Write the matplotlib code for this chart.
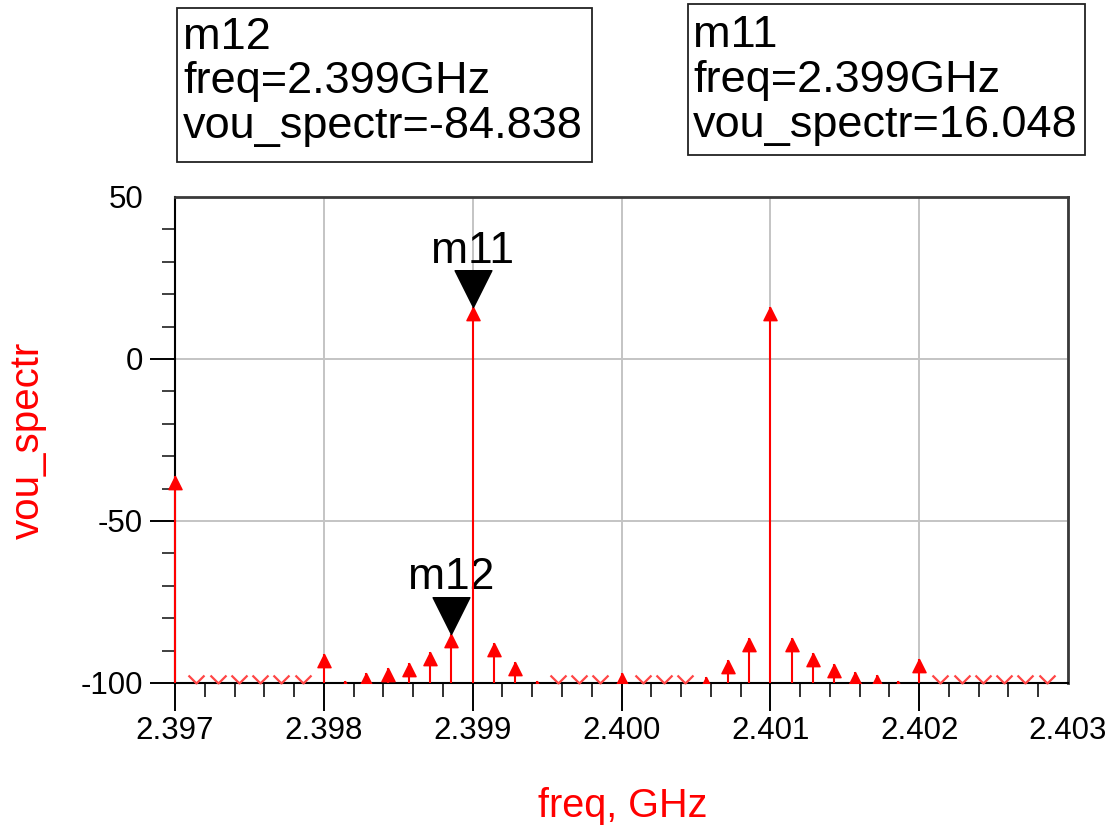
import matplotlib
matplotlib.use("Agg")
import matplotlib.pyplot as plt
import numpy as np
from matplotlib.path import Path
from matplotlib.patches import Rectangle
from matplotlib.ticker import MultipleLocator, FormatStrFormatter

plt.rcParams["font.family"] = ["Liberation Sans", "DejaVu Sans"]
plt.rcParams["axes.unicode_minus"] = False

# Spectrum of vou: tone spacing 1/7 MHz, values in dB
freq_ghz = [
    2.397000, 2.397143, 2.397286, 2.397429, 2.397571, 2.397714, 2.397857,
    2.398000, 2.398143, 2.398286, 2.398429, 2.398571, 2.398714, 2.398857,
    2.399000, 2.399143, 2.399286, 2.399429, 2.399571, 2.399714, 2.399857,
    2.400000, 2.400143, 2.400286, 2.400429, 2.400571, 2.400714, 2.400857,
    2.401000, 2.401143, 2.401286, 2.401429, 2.401571, 2.401714, 2.401857,
    2.402000, 2.402143, 2.402286, 2.402429, 2.402571, 2.402714, 2.402857,
]
vou_spectr = [
    -36.0, -112.0, -115.0, -110.0, -118.0, -113.0, -109.0,
    -91.0, -99.5, -97.0, -95.3, -93.8, -90.4, -84.838,
    16.048, -87.6, -93.5, -99.5, -108.0, -112.0, -106.0,
    -97.0, -107.0, -111.0, -106.0, -98.0, -93.0, -86.0,
    16.0, -86.2, -90.8, -94.2, -96.6, -97.6, -99.5,
    -92.6, -108.0, -114.0, -110.0, -116.0, -112.0, -109.0,
]

# Markers: name -> index into the data
marker_names = ["m11", "m12"]
marker_index = [14, 13]

x_limits = (2.397, 2.403)
y_limits = (-100, 50)
x_ticks = [2.397, 2.398, 2.399, 2.400, 2.401, 2.402, 2.403]
y_ticks = [-100, -50, 0, 50]

W, H = 1116, 826
fig = plt.figure(figsize=(W / 100, H / 100), dpi=100)
ax = fig.add_axes([175 / W, 1 - 683 / H, (1068 - 175) / W, (683 - 197) / H])

ax.set_xlim(*x_limits)
ax.set_ylim(*y_limits)

freq = np.asarray(freq_ghz)
vals = np.asarray(vou_spectr)
inside = vals >= y_limits[0]
below = ~inside

# Grid
ax.set_xticks(x_ticks)
ax.set_yticks(y_ticks)
ax.xaxis.set_major_formatter(FormatStrFormatter("%.3f"))
ax.yaxis.set_major_formatter(FormatStrFormatter("%d"))
ax.xaxis.set_minor_locator(MultipleLocator(0.0002))
ax.yaxis.set_minor_locator(MultipleLocator(10))
ax.grid(True, which="major", color="#c4c4c4", lw=1.4, zorder=0)
ax.set_axisbelow(True)

# Stems
ax.vlines(freq[inside], y_limits[0], vals[inside], color="#ff0000",
          lw=1.5, zorder=3, clip_on=False)

# Arrow-head markers whose tip sits on the value
tip_up = Path([(0, 0), (-0.5, -1), (0.5, -1), (0, 0)],
              [Path.MOVETO, Path.LINETO, Path.LINETO, Path.CLOSEPOLY])
heads, = ax.plot(freq[inside], vals[inside], ls="none", marker=tip_up,
                 ms=19, color="#ff0000", mec="#ff0000", zorder=4)
clip_rect = Rectangle((-0.05, 0), 1.1, 1.1, transform=ax.transAxes,
                      facecolor="none", edgecolor="none")
ax.add_patch(clip_rect)
heads.set_clip_path(clip_rect)

# Out-of-range points drawn as chevrons on the bottom edge
chevron = Path([(-1, 1), (0, 0), (1, 1)],
               [Path.MOVETO, Path.LINETO, Path.LINETO])
ax.plot(freq[below], np.full(below.sum(), y_limits[0]), ls="none",
        marker=chevron, ms=11.5, mfc="none", mec="#ff4646", mew=1.6,
        zorder=4, clip_on=False)

# Marker glyphs and names
tip_down = Path([(0, 0), (-0.5, 1), (0.5, 1), (0, 0)],
                [Path.MOVETO, Path.LINETO, Path.LINETO, Path.CLOSEPOLY])
for name, idx in zip(marker_names, marker_index):
    ax.plot([freq[idx]], [vals[idx]], ls="none", marker=tip_down, ms=53,
            color="black", zorder=6, clip_on=False)
    ax.annotate(name, xy=(freq[idx], vals[idx]), xytext=(0, 32),
                textcoords="offset points", ha="center", va="baseline",
                fontsize=32, color="black", zorder=2.5)

# Spines and ticks
for side in ("left", "bottom"):
    ax.spines[side].set_color("black")
    ax.spines[side].set_linewidth(1.5)
for side in ("top", "right"):
    ax.spines[side].set_color("#3a3a3a")
    ax.spines[side].set_linewidth(2)

ax.tick_params(axis="x", which="major", direction="out", length=20, width=1.4,
               pad=4, labelsize=22.5, colors="black")
ax.tick_params(axis="x", which="minor", direction="out", length=10, width=1.4,
               color="#303030")
ax.tick_params(axis="y", which="major", direction="out", length=18, width=1.4,
               pad=5, labelsize=22.5, colors="black")
ax.tick_params(axis="y", which="minor", direction="out", length=9.4, width=1.4,
               color="#404040")
ax.xaxis.get_major_ticks()[-1].tick1line.set_visible(False)
ax.yaxis.get_major_ticks()[-1].tick1line.set_visible(False)

# Axis titles
fig.text(623 / W, 1 - 817 / H, "freq, GHz", color="#ff0000", fontsize=28.5,
         ha="center", va="baseline")
fig.text(28 / W, 1 - 440 / H, "vou_spectr", color="#ff0000", fontsize=29,
         ha="center", va="center", rotation=90)

# Marker readout boxes
def readout(box, text_x, baselines, idx, name):
    x0, y0, x1, y1 = box
    fig.patches.append(Rectangle((x0 / W, 1 - y1 / H), (x1 - x0) / W,
                                 (y1 - y0) / H, transform=fig.transFigure,
                                 facecolor="white", edgecolor="#222222",
                                 lw=1.3, zorder=1))
    lines = [name, f"freq={freq[idx]:.3f}GHz", f"vou_spectr={vals[idx]:.3f}"]
    for line, yb in zip(lines, baselines):
        fig.text(text_x / W, 1 - yb / H, line, fontsize=32.5, color="black",
                 ha="left", va="baseline", zorder=2)

readout((177, 8, 592, 162), 183, (49, 93, 138), marker_index[1], marker_names[1])
readout((688, 4, 1085, 155), 693, (47, 92, 137), marker_index[0], marker_names[0])

fig.savefig("out.png", dpi=100)
